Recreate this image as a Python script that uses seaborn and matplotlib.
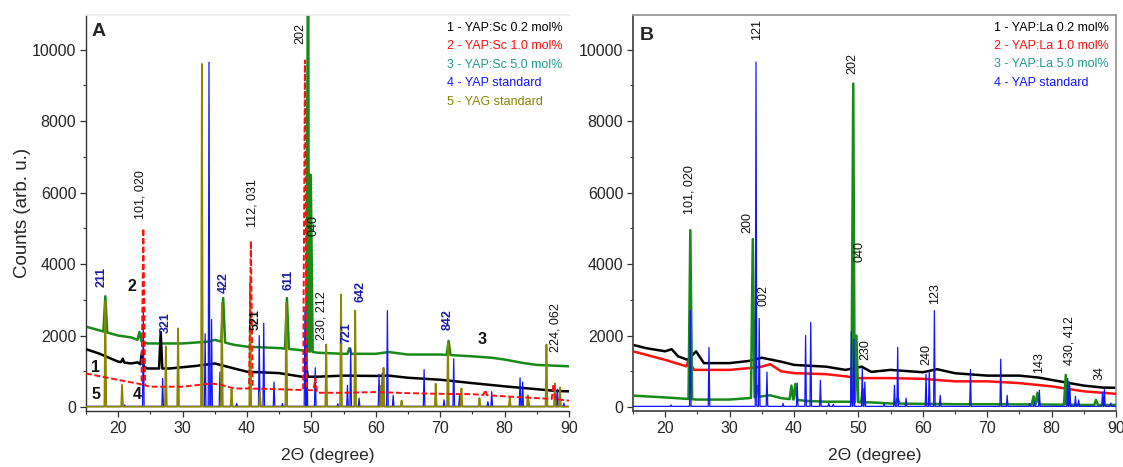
import numpy as np
import pandas as pd
import matplotlib
matplotlib.use("Agg")
import matplotlib.pyplot as plt
import seaborn as sns

# ---------------- DATA ----------------
# Panel A : YAP:Sc
A_sc02_base_x = [15, 17, 20, 22, 23.0, 24.5, 28, 32, 35, 38, 40, 45, 48.5, 51, 55, 60, 62, 65, 70, 75, 80, 85, 88, 90]
A_sc02_base_y = [1620, 1500, 1270, 1220, 1250, 1080, 1080, 1150, 1220, 1080, 990, 950, 850, 850, 880, 870, 880, 820, 765, 670, 580, 500, 450, 440]
A_sc02_peak_x = [20.7, 23.7, 26.6, 49.2]
A_sc02_peak_y = [1350, 1550, 2100, 1150]

A_sc10_base_x = [15, 20, 23.0, 25, 30, 34.5, 36, 38, 40, 45, 48, 50.5, 51, 55, 60, 65, 70, 75, 80, 85, 88, 90]
A_sc10_base_y = [940, 760, 660, 570, 570, 660, 620, 520, 520, 500, 480, 470, 400, 400, 420, 390, 370, 360, 300, 250, 220, 180]
A_sc10_peak_x = [23.9, 40.6, 49.0, 50.6, 77.0, 87.6]
A_sc10_peak_y = [5000, 4650, 9700, 800, 480, 650]

A_sc50_base_x = [15, 17, 20, 22, 24.5, 30, 34, 35, 38, 40, 45, 48, 51, 55, 60, 62, 65, 70, 75, 78, 80, 83, 85, 90]
A_sc50_base_y = [2250, 2150, 2000, 1950, 1780, 1780, 1830, 1880, 1740, 1690, 1650, 1600, 1520, 1490, 1490, 1540, 1470, 1470, 1420, 1380, 1330, 1230, 1180, 1140]
A_sc50_peak_x = [18.0, 23.3, 36.3, 46.2, 49.5, 49.9, 55.9, 71.3]
A_sc50_peak_y = [3100, 2100, 3050, 3050, 14000, 6500, 1650, 1850]

A_yap_peak_x = [21.0, 23.9, 26.9, 33.5, 34.1, 34.5, 35.8, 38.4, 40.5, 41.9, 42.6, 44.2, 45.5, 46.1,
                49.0, 49.3, 50.6, 54.1, 55.6, 56.1, 57.4, 60.5, 61.0, 61.8, 62.7, 67.5, 70.6,
                72.1, 73.0, 77.4, 78.0, 82.4, 82.8, 83.7, 87.9, 88.2, 89.2]
A_yap_peak_y = [60, 2700, 800, 2050, 9650, 2450, 980, 100, 300, 2000, 2350, 700, 100, 150,
                2800, 1900, 1100, 95, 610, 1650, 250, 920, 950, 2700, 330, 1050, 200,
                1350, 330, 150, 430, 820, 700, 250, 450, 500, 110]

A_yag_peak_x = [18.0, 20.6, 27.4, 29.3, 33.0, 36.1, 37.6, 40.5, 42.0, 46.1, 52.3, 54.6, 56.8, 60.8,
                61.2, 64.0, 69.3, 71.2, 73.3, 76.1, 80.8, 83.6, 86.5, 87.8, 88.6]
A_yag_peak_y = [2950, 620, 1700, 2200, 9600, 2900, 500, 3500, 420, 2900, 1750, 3150, 2700, 600,
                1100, 180, 650, 1780, 520, 250, 290, 330, 1750, 660, 550]

# Panel B : YAP:La
B_la02_base_x = [15, 17, 20, 21.0, 22, 23.5, 24.8, 26, 30, 33, 35, 38, 40, 45, 48, 50.5, 52, 55, 60, 62.2, 65, 70, 75, 78, 80, 85, 88, 90]
B_la02_base_y = [1740, 1650, 1560, 1620, 1420, 1320, 1560, 1230, 1230, 1290, 1380, 1270, 1180, 1130, 1040, 1130, 984, 1040, 974, 1060, 947, 880, 880, 825, 760, 600, 545, 540]

B_la10_base_x = [15, 20, 23.3, 23.6, 24.5, 30, 33, 35, 36.3, 38, 40, 45, 48, 50, 55, 60, 65, 70, 75, 80, 85, 90]
B_la10_base_y = [1560, 1320, 1140, 1300, 1040, 1040, 1090, 1130, 1200, 1000, 950, 920, 860, 810, 810, 790, 720, 720, 670, 580, 440, 370]

B_la50_base_x = [15, 20, 23.3, 25, 30, 33, 35, 36.3, 38, 42, 45, 48, 52, 55, 60, 65, 70, 75, 80, 85, 90]
B_la50_base_y = [320, 270, 230, 210, 210, 250, 300, 330, 250, 170, 150, 150, 130, 100, 90, 80, 80, 75, 70, 60, 60]
B_la50_peak_x = [23.9, 33.6, 34.3, 39.6, 40.2, 49.2, 49.7, 50.7, 56.1, 77.2, 77.8, 82.2, 82.6, 86.9]
B_la50_peak_y = [4950, 4700, 600, 600, 650, 9050, 2000, 500, 250, 300, 400, 900, 700, 200]

B_yap_peak_x = [20.9, 23.9, 26.8, 34.1, 34.6, 35.8, 38.3, 40.5, 41.8, 42.6, 44.1, 45.4, 46.1,
                48.9, 49.3, 50.6, 51.0, 54.0, 55.6, 56.1, 57.4, 60.5, 61.0, 61.8, 62.7, 67.4,
                72.1, 73.1, 76.6, 77.3, 78.1, 82.5, 82.8, 83.7, 84.2, 87.9, 88.2, 89.2]
B_yap_peak_y = [60, 2710, 1670, 9650, 2480, 980, 100, 670, 2000, 2370, 750, 100, 80,
                2110, 1900, 1090, 700, 95, 610, 1670, 250, 920, 1000, 2700, 330, 1050,
                1340, 330, 100, 150, 470, 800, 700, 300, 200, 420, 500, 110]

legend_A = ["1 - YAP:Sc 0.2 mol%", "2 - YAP:Sc 1.0 mol%", "3 - YAP:Sc 5.0 mol%", "4 - YAP standard", "5 - YAG standard"]
legend_B = ["1 - YAP:La 0.2 mol%", "2 - YAP:La 1.0 mol%", "3 - YAP:La 5.0 mol%", "4 - YAP standard"]

A_hkl_labels = ["101, 020", "112, 031", "202", "040", "230, 212", "224, 062"]
A_hkl_x = [23.5, 40.8, 48.3, 50.3, 51.5, 87.9]
A_hkl_y = [5250, 5050, 10150, 4800, 1880, 1540]

A_yag_labels = ["211", "321", "422", "521", "611", "721", "642", "842"]
A_yag_x = [17.5, 27.4, 36.4, 41.3, 46.4, 55.4, 57.6, 71.2]
A_yag_y = [3350, 2060, 3190, 2150, 3280, 1790, 2940, 2150]
A_yag_colors = ["navy", "navy", "navy", "black", "navy", "navy", "navy", "navy"]

A_num_labels = ["1", "2", "3", "4", "5"]
A_num_x = [16.5, 22.2, 76.5, 22.9, 16.5]
A_num_y = [1120, 3360, 1880, 360, 340]

B_hkl_labels = ["101, 020", "200", "121", "002", "202", "040", "230", "240", "123", "143", "430, 412", "34"]
B_hkl_x = [23.7, 32.8, 34.3, 35.3, 49.1, 50.1, 51.1, 60.5, 61.9, 78.0, 82.8, 87.4]
B_hkl_y = [5400, 4880, 10260, 2820, 9330, 4060, 1320, 1180, 2880, 950, 1180, 760]

# ---------------- STYLE ----------------
sns.set_theme(style="ticks")
plt.rcParams['font.family'] = ['Liberation Sans', 'DejaVu Sans']

C_BLACK = "#000000"
C_RED = "#ff1010"
C_GREEN = "#188a18"
C_BLUE = "#1414ff"
C_OLIVE = "#8a8600"
C_TEAL = "#239a92"
C_NAVY = "#1c1ca8"
label_color = {"navy": C_NAVY, "black": "#111111"}


def trace(base_x, base_y, peak_x, peak_y, hw):
    bx = np.asarray(base_x, float)
    by = np.asarray(base_y, float)
    px = np.asarray(peak_x, float)
    keep = np.ones(len(bx), bool)
    for p in px:
        keep &= ~((bx > p - hw) & (bx < p + hw))
    xs = list(bx[keep])
    ys = list(by[keep])
    for p, h in zip(px, peak_y):
        for xx in (p - hw, p + hw):
            xs.append(xx)
            ys.append(float(np.interp(xx, bx, by)))
        xs.append(p)
        ys.append(h)
    order = np.argsort(xs, kind="stable")
    return pd.DataFrame({"x": np.asarray(xs)[order], "y": np.asarray(ys)[order]})


def draw(ax, df, color, lw, ls="-", z=2):
    sns.lineplot(data=df, x="x", y="y", ax=ax, color=color, lw=lw, estimator=None,
                 sort=False, linestyle=ls, zorder=z)


fig = plt.figure(figsize=(11.23, 4.67), dpi=100)
W, H = 1123, 467
axA = fig.add_axes([86 / W, 56 / H, 483 / W, 396 / H])
axB = fig.add_axes([633 / W, 56 / H, 483 / W, 396 / H])

dash = (0, (3, 1.4))

# Panel A curves
draw(axA, trace(A_sc50_base_x, A_sc50_base_y, A_sc50_peak_x, A_sc50_peak_y, 0.3), C_GREEN, 1.8, z=2)
draw(axA, trace(A_sc02_base_x, A_sc02_base_y, A_sc02_peak_x, A_sc02_peak_y, 0.25), C_BLACK, 1.8, z=3)
draw(axA, trace([15, 90], [20, 20], A_yap_peak_x, A_yap_peak_y, 0.12), C_BLUE, 0.9, z=4)
draw(axA, trace([15, 90], [10, 10], A_yag_peak_x, A_yag_peak_y, 0.14), C_OLIVE, 1.3, z=5)
draw(axA, trace(A_sc10_base_x, A_sc10_base_y, A_sc10_peak_x, A_sc10_peak_y, 0.28), C_RED, 1.4, ls=dash, z=6)

# Panel B curves
draw(axB, trace(B_la02_base_x, B_la02_base_y, [], [], 0.25), C_BLACK, 1.8, z=2)
draw(axB, trace(B_la10_base_x, B_la10_base_y, [], [], 0.25), C_RED, 1.8, z=3)
draw(axB, trace(B_la50_base_x, B_la50_base_y, B_la50_peak_x, B_la50_peak_y, 0.28), C_GREEN, 1.8, z=4)
draw(axB, trace([15, 90], [20, 20], B_yap_peak_x, B_yap_peak_y, 0.12), C_BLUE, 0.9, z=5)

for ax in (axA, axB):
    ax.set_xlim(15, 90)
    ax.set_ylim(-110, 10970)
    ax.set_xticks(range(20, 91, 10))
    ax.set_xticks(range(15, 90, 10), minor=True)
    ax.set_yticks(range(0, 10001, 2000))
    ax.set_yticks(range(1000, 10001, 2000), minor=True)
    ax.tick_params(axis="both", which="major", direction="out", length=4, width=0.9,
                   labelsize=11.5, pad=3, color="#333333")
    ax.tick_params(axis="both", which="minor", direction="out", length=2.5, width=0.8, color="#333333")
    ax.set_xlabel("2\u0398 (degree)", fontsize=12.5, labelpad=9)
    ax.set_ylabel("")

for s in ("left", "bottom"):
    axA.spines[s].set_color("#333333")
    axA.spines[s].set_linewidth(1.0)
axA.spines["right"].set_visible(False)
axA.spines["top"].set_color("#ececec")
for s in ("left", "bottom"):
    axB.spines[s].set_color("#444444")
for s in ("top", "right"):
    axB.spines[s].set_color("#999999")
    axB.spines[s].set_linewidth(1.3)

axA.set_ylabel("Counts (arb. u.)", fontsize=13.5, labelpad=1)

# Panel letters
axA.text(17.0, 10500, "A", fontsize=14, fontweight="bold", ha="center", va="center")
axB.text(17.2, 10400, "B", fontsize=14, fontweight="bold", ha="center", va="center")

# Legends as coloured text
colsA = [C_BLACK, C_RED, C_TEAL, C_BLUE, C_OLIVE]
for i, (t, c) in enumerate(zip(legend_A, colsA)):
    axA.text(71.0, 10616 - i * 518, t, color=c, fontsize=9, ha="left", va="center")
colsB = [C_BLACK, C_RED, C_TEAL, C_BLUE]
for i, (t, c) in enumerate(zip(legend_B, colsB)):
    axB.text(71.0, 10620 - i * 513, t, color=c, fontsize=9, ha="left", va="center")

# Annotations
for t, x, y in zip(A_hkl_labels, A_hkl_x, A_hkl_y):
    axA.text(x, y, t, rotation=90, fontsize=9, ha="center", va="bottom", color="#111111", zorder=10)
for t, x, y, c in zip(A_yag_labels, A_yag_x, A_yag_y, A_yag_colors):
    axA.text(x, y, t, rotation=90, fontsize=9, fontweight="bold", ha="center", va="bottom",
             color=label_color[c], zorder=10)
for t, x, y in zip(A_num_labels, A_num_x, A_num_y):
    axA.text(x, y, t, fontsize=11.5, fontweight="bold", ha="center", va="center", color="#111111", zorder=10)
for t, x, y in zip(B_hkl_labels, B_hkl_x, B_hkl_y):
    axB.text(x, y, t, rotation=90, fontsize=9, ha="center", va="bottom", color="#111111", zorder=10)

fig.savefig("out.png", dpi=100)
